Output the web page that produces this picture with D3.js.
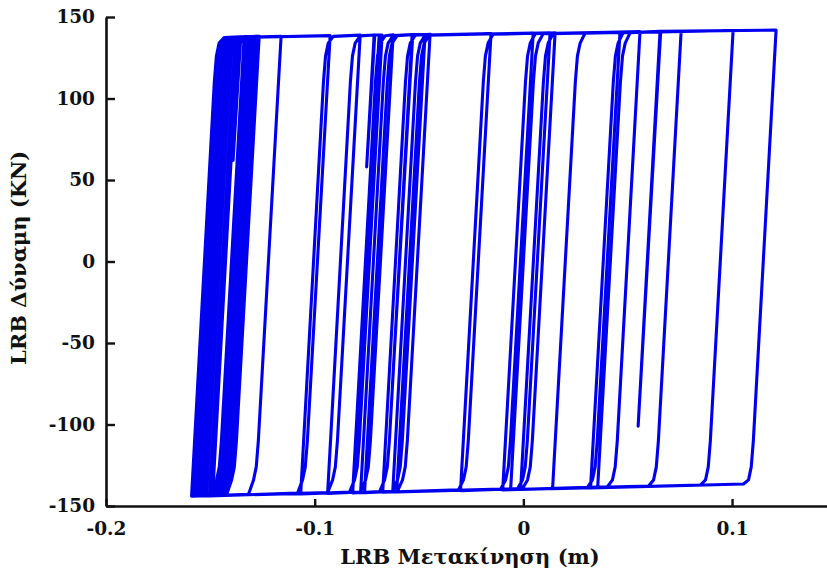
<!DOCTYPE html>
<meta charset="utf-8">
<script src="https://d3js.org/d3.v7.min.js"></script>
<style>
  body { margin: 0; background: #fff; }
  text { font-family: "DejaVu Serif", serif; font-weight: bold; fill: #111; }
</style>
<div id="my_dataviz"></div>
<script>

// LRB hysteresis path, vertices (displacement in m, force in kN)
var disp = [
  0.0356, 0.0465, 0.0475, 0.0488, 0.0512, 0.0655, 0.0550, 0.0658, 0.1211, 0.1102, 0.1092, 0.1079, 0.1055,
  0.0322, 0.0431, 0.0441, 0.0454, 0.0478, 0.1005, 0.0896, 0.0886, 0.0873, 0.0849,
  0.0140, 0.0249, 0.0259, 0.0272, 0.0296, 0.0756, 0.0647, 0.0637, 0.0624, 0.0600,
  -0.0013, 0.0096, 0.0106, 0.0119, 0.0143, 0.0559, 0.0450, 0.0440, 0.0427, 0.0403,
  -0.0061, 0.0048, 0.0058, 0.0071, 0.0095, 0.0463, 0.0354, 0.0344, 0.0331, 0.0307,
  -0.0099, 0.0010, 0.0020, 0.0033, 0.0057, 0.0152, 0.0043, 0.0033, 0.0020, -0.0004,
  -0.0301, -0.0192, -0.0182, -0.0169, -0.0145, 0.0128, 0.0019, 0.0009, -0.0004, -0.0028,
  -0.0607, -0.0498, -0.0488, -0.0475, -0.0451, 0.0047, -0.0062, -0.0072, -0.0085, -0.0109,
  -0.0626, -0.0517, -0.0507, -0.0494, -0.0470, -0.0155, -0.0264, -0.0274, -0.0287, -0.0311,
  -0.0674, -0.0565, -0.0555, -0.0542, -0.0518, -0.0447, -0.0556, -0.0566, -0.0579, -0.0603,
  -0.0761, -0.0652, -0.0642, -0.0629, -0.0605, -0.0533, -0.0627, -0.0530, -0.0471, -0.0580, -0.0590, -0.0603, -0.0627,
  -0.0780, -0.0671, -0.0661, -0.0648, -0.0624, -0.0533, -0.0642, -0.0652, -0.0665, -0.0689,
  -0.0818, -0.0709, -0.0699, -0.0686, -0.0662, -0.0624, -0.0733, -0.0743, -0.0756, -0.0780,
  -0.0938, -0.0829, -0.0819, -0.0806, -0.0782, -0.0715, -0.0751, -0.0712, -0.0691, -0.0808, -0.0688, -0.0677, -0.0786, -0.0796, -0.0809, -0.0833,
  -0.1067, -0.0958, -0.0948, -0.0935, -0.0911, -0.0782, -0.0891, -0.0901, -0.0914, -0.0938,
  -0.1489, -0.1380, -0.1370, -0.1357, -0.1333, -0.0926, -0.1035, -0.1045, -0.1058, -0.1082,
  -0.1503, -0.1394, -0.1384, -0.1371, -0.1347, -0.1161, -0.1270, -0.1280, -0.1293, -0.1317,
  -0.1518, -0.1409, -0.1399, -0.1386, -0.1362, -0.1266, -0.1375, -0.1385, -0.1398, -0.1422,
  -0.1532, -0.1423, -0.1413, -0.1400, -0.1376, -0.1281, -0.1390, -0.1400, -0.1413, -0.1437,
  -0.1546, -0.1437, -0.1427, -0.1414, -0.1390, -0.1295, -0.1404, -0.1414, -0.1427, -0.1451,
  -0.1561, -0.1452, -0.1442, -0.1429, -0.1405, -0.1309, -0.1418, -0.1428, -0.1441, -0.1465,
  -0.1575, -0.1466, -0.1456, -0.1443, -0.1419, -0.1324, -0.1433, -0.1443, -0.1456, -0.1480,
  -0.1590, -0.1481, -0.1471, -0.1458, -0.1434, -0.1357, -0.1391, -0.1354, -0.1338, -0.1447, -0.1457, -0.1470, -0.1494,
  -0.1539, -0.1430, -0.1420, -0.1407, -0.1383, -0.1273, -0.1382, -0.1392, -0.1405, -0.1429,
  -0.1554, -0.1445, -0.1435, -0.1422, -0.1398, -0.1288, -0.1397, -0.1407, -0.1420, -0.1444,
  -0.1568, -0.1459, -0.1449, -0.1436, -0.1412, -0.1302, -0.1411, -0.1421, -0.1434, -0.1458,
  -0.1582, -0.1473, -0.1463, -0.1450, -0.1426, -0.1317, -0.1426, -0.1436, -0.1449, -0.1473
];
var force = [
  -138.9, 110, 126, 134, 140.4, 141.2, -101, 141.2, 142.0, -110, -126, -134, -136.5,
  -139.0, 110, 126, 134, 140.4, 141.7, -110, -126, -134, -137.1,
  -139.4, 110, 126, 134, 140.1, 141.3, -110, -126, -134, -137.7,
  -139.8, 110, 126, 134, 139.8, 141.0, -110, -126, -134, -138.2,
  -140.0, 110, 126, 134, 139.8, 140.8, -110, -126, -134, -138.5,
  -140.1, 110, 126, 134, 139.7, 140.3, -110, -126, -134, -139.3,
  -140.6, 110, 126, 134, 139.4, 140.3, -110, -126, -134, -139.4,
  -141.4, 110, 126, 134, 138.9, 140.2, -110, -126, -134, -139.6,
  -141.4, 110, 126, 134, 138.9, 139.9, -110, -126, -134, -140.1,
  -141.6, 110, 126, 134, 138.8, 139.4, -110, -126, -134, -140.9,
  -141.8, 110, 126, 134, 138.6, 139.2, -75, 139.2, 139.3, -110, -126, -134, -141.0,
  -141.9, 110, 126, 134, 138.6, 139.2, -110, -126, -134, -141.1,
  -142.0, 110, 126, 134, 138.5, 139.1, -110, -126, -134, -141.4,
  -142.3, 110, 126, 134, 138.4, 139.0, 58, 139.0, 139.0, -128, 139.0, 139.0, -110, -126, -134, -141.5,
  -142.6, 110, 126, 134, 138.1, 138.9, -110, -126, -134, -141.8,
  -143.7, 110, 126, 134, 137.5, 138.6, -110, -126, -134, -142.1,
  -143.8, 110, 126, 134, 137.5, 138.2, -110, -126, -134, -142.8,
  -143.8, 110, 126, 134, 137.4, 138.1, -110, -126, -134, -143.0,
  -143.8, 110, 126, 134, 137.4, 138.1, -110, -126, -134, -143.1,
  -143.9, 110, 126, 134, 137.4, 138.0, -110, -126, -134, -143.1,
  -143.9, 110, 126, 134, 137.4, 138.0, -110, -126, -134, -143.2,
  -143.9, 110, 126, 134, 137.4, 138.0, -110, -126, -134, -143.2,
  -144.0, 110, 126, 134, 137.4, 137.9, 62, 137.9, 137.9, -110, -126, -134, -143.2,
  -143.8, 110, 126, 134, 137.4, 138.1, -110, -126, -134, -143.1,
  -143.9, 110, 126, 134, 137.4, 138.0, -110, -126, -134, -143.1,
  -143.9, 110, 126, 134, 137.4, 138.0, -110, -126, -134, -143.2,
  -144.0, 110, 126, 134, 137.4, 138.0, -110, -126, -134, -143.2
];

var xTicks = [-0.2, -0.1, 0, 0.1];
var yTicks = [-150, -100, -50, 0, 50, 100, 150];

var width = 827, height = 573;

var svg = d3.select("#my_dataviz")
  .append("svg")
    .attr("width", width)
    .attr("height", height);

var x = d3.scaleLinear()
  .domain([-0.2, 0.1455])
  .range([106, 827]);

var y = d3.scaleLinear()
  .domain([-150, 150])
  .range([506, 17]);

// hysteresis curve
var line = d3.line()
  .x(function(i) { return x(disp[i]); })
  .y(function(i) { return y(force[i]); });

svg.append("path")
  .datum(d3.range(disp.length))
  .attr("d", line)
  .attr("fill", "none")
  .attr("stroke", "#0000f0")
  .attr("stroke-width", 3.1)
  .attr("stroke-linejoin", "round")
  .attr("stroke-linecap", "round");

// X axis (ticks point inward)
var gx = svg.append("g")
  .attr("transform", "translate(0," + 506 + ")")
  .call(d3.axisBottom(x)
    .tickValues(xTicks)
    .tickSizeInner(-7)
    .tickSizeOuter(0)
    .tickPadding(16)
    .tickFormat(function(d) { return d === 0 ? "0" : String(d); }));

// Y axis
var gy = svg.append("g")
  .attr("transform", "translate(" + 106 + ",0)")
  .call(d3.axisLeft(y)
    .tickValues(yTicks)
    .tickSizeInner(-9)
    .tickSizeOuter(0)
    .tickPadding(11)
    .tickFormat(function(d) { return String(d); }));

[gx, gy].forEach(function(g) {
  g.select(".domain").attr("stroke", "#111").attr("stroke-width", 2.6);
  g.selectAll(".tick line").attr("stroke", "#111").attr("stroke-width", 2.4);
  g.selectAll(".tick text")
    .attr("fill", "#111")
    .style("font-family", "'DejaVu Serif', serif")
    .style("font-weight", "bold")
    .style("font-size", "18.5px");
});

svg.append("text")
  .attr("text-anchor", "middle")
  .attr("x", 470)
  .attr("y", 564)
  .style("font-size", "21px")
  .text("LRB Μετακίνηση (m)");

svg.append("text")
  .attr("text-anchor", "middle")
  .attr("transform", "translate(26,258) rotate(-90)")
  .style("font-size", "21px")
  .text("LRB Δύναμη (KN)");

</script>
